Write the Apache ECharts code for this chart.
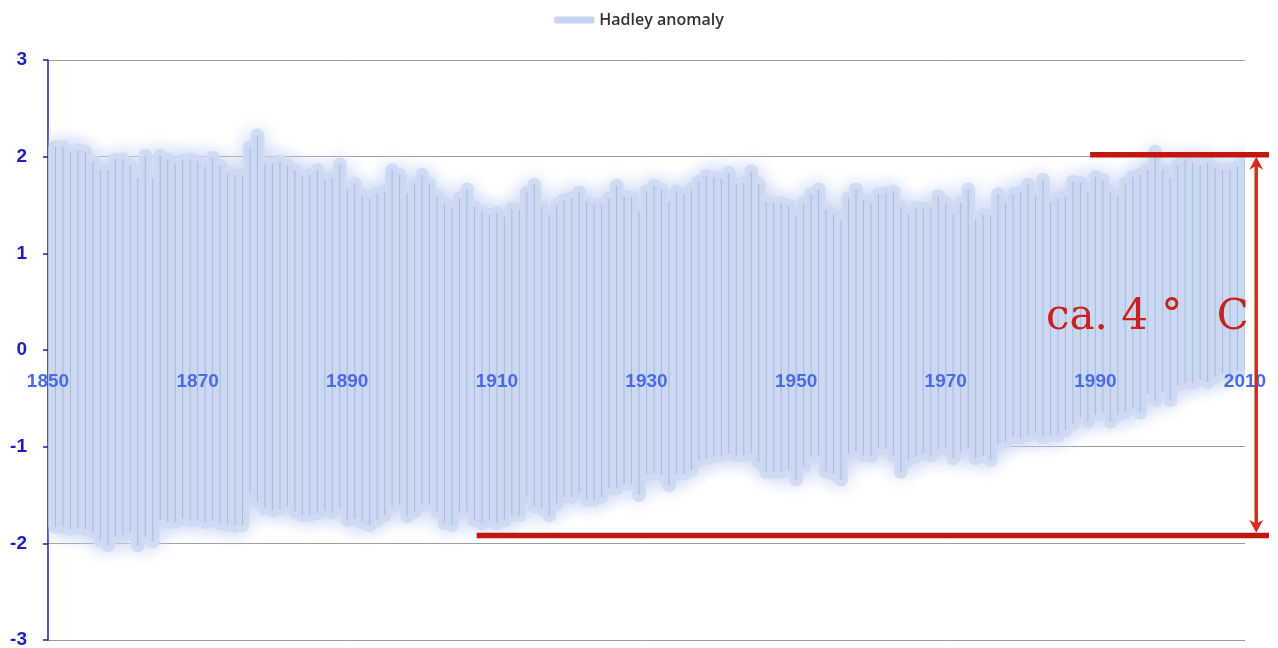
<!DOCTYPE html>
<html>
<head>
<meta charset="utf-8">
<script src="https://cdn.jsdelivr.net/npm/echarts@6/dist/echarts.min.js"></script>
<style>
html,body{margin:0;padding:0;background:#fff;}
#main{width:1278px;height:648px;}
</style>
</head>
<body>
<div id="main"></div>
<script>
const seriesName = 'Hadley anomaly';
const firstYear = 1851;
const xTicks = [1850, 1870, 1890, 1910, 1930, 1950, 1970, 1990, 2010];
const yTicks = [-3, -2, -1, 0, 1, 2, 3];

// upper end of each year's swing
const highs = [
2.10,2.10,2.05,2.07,2.05,1.95,1.86,1.86,1.97,1.97,
1.91,1.78,2.01,1.78,2.01,1.97,1.93,1.96,1.97,1.95,
1.90,1.99,1.91,1.83,1.81,1.81,2.10,2.22,1.93,1.93,
1.95,1.91,1.86,1.79,1.81,1.86,1.76,1.78,1.92,1.67,
1.72,1.60,1.57,1.62,1.64,1.86,1.81,1.62,1.72,1.81,
1.72,1.59,1.52,
1.47,1.57,1.66,1.48,1.43,1.40,1.42,1.38,1.46,1.45,
1.63,1.71,1.48,1.40,1.50,1.55,1.57,1.63,1.53,1.50,
1.50,1.57,1.70,1.59,1.58,1.43,1.64,1.70,1.66,1.53,
1.64,1.61,1.66,1.74,1.80,1.78,1.77,1.83,1.72,1.73,
1.85,1.72,1.53,1.52,1.52,1.49,1.38,1.52,1.61,1.66,
1.45,1.40,1.34,1.57,1.66,
1.55,1.52,1.61,1.62,1.64,1.48,1.41,1.47,1.46,1.47,
1.59,1.52,1.40,1.52,1.66,1.35,1.40,1.39,1.61,1.52,
1.61,1.63,1.71,1.59,1.76,1.53,1.57,1.59,1.74,1.73,
1.63,1.79,1.76,1.63,1.60,1.72,1.79,1.81,1.86,2.05,
1.86,1.78,1.91,1.97,1.93,1.91,1.94,1.88,1.86,1.86,
1.90,1.97
];

// lower end of each year's swing
const lows = [
-1.83,-1.83,-1.85,-1.84,-1.85,-1.88,-1.97,-2.02,-1.93,-1.91,
-1.88,-2.02,-1.93,-1.98,-1.76,-1.78,-1.78,-1.74,-1.76,-1.76,
-1.78,-1.76,-1.79,-1.81,-1.82,-1.81,-1.48,-1.57,-1.64,-1.66,
-1.64,-1.62,-1.67,-1.71,-1.71,-1.69,-1.66,-1.68,-1.64,-1.76,
-1.74,-1.78,-1.81,-1.76,-1.71,-1.62,-1.60,-1.72,-1.67,-1.60,
-1.59,-1.67,-1.79,
-1.81,-1.67,-1.67,-1.76,-1.79,-1.76,-1.79,-1.76,-1.71,-1.71,
-1.52,-1.62,-1.64,-1.71,-1.59,-1.52,-1.52,-1.48,-1.55,-1.55,
-1.52,-1.43,-1.43,-1.38,-1.38,-1.50,-1.29,-1.28,-1.29,-1.40,
-1.28,-1.28,-1.24,-1.14,-1.12,-1.10,-1.09,-1.07,-1.09,-1.09,
-1.07,-1.16,-1.26,-1.26,-1.26,-1.24,-1.34,-1.21,-1.10,-1.09,
-1.26,-1.28,-1.34,-1.07,-1.05,
-1.09,-1.10,-1.02,-1.02,-1.09,-1.26,-1.14,-1.10,-1.07,-1.09,
-1.03,-1.02,-1.12,-1.05,-1.02,-1.12,-1.10,-1.14,-0.97,-0.95,
-0.90,-0.91,-0.88,-0.86,-0.90,-0.88,-0.88,-0.83,-0.76,-0.69,
-0.74,-0.67,-0.65,-0.74,-0.67,-0.64,-0.60,-0.65,-0.45,-0.52,
-0.43,-0.52,-0.36,-0.34,-0.34,-0.31,-0.33,-0.28,-0.24,-0.24,
-0.21,-0.21
];

// annotation (data units)
const spanTopY = 2.02, spanTopFrom = 1989.3, spanTopTo = 2013.2;
const spanBotY = -1.92, spanBotFrom = 1907.3, spanBotTo = 2013.2;
const arrowX = 2011.5, arrowTop = 2.0, arrowBottom = -1.89;
const noteText = 'ca. 4 °\u2002 C';
const noteX = 1983.4, noteY = 0.33;

const years = highs.map((_, i) => firstYear + i);
const rows = years.map((y, i) => [y, lows[i], highs[i]]);

const chart = echarts.init(document.getElementById('main'));

function segItem(style) {
  return function (params, api) {
    const x = api.value(0);
    const p1 = api.coord([x, api.value(1)]);
    const p2 = api.coord([x, api.value(2)]);
    return {
      type: 'line',
      shape: { x1: p1[0], y1: p1[1], x2: p2[0], y2: p2[1] },
      style: style
    };
  };
}

function layer(style, z, name) {
  return {
    name: name,
    type: 'custom',
    clip: true,
    silent: true,
    data: rows,
    encode: { x: 0, y: [1, 2] },
    itemStyle: { color: '#c6d4ef' },
    renderItem: segItem(style),
    z: z
  };
}

chart.setOption({
  animation: false,
  backgroundColor: '#ffffff',
  legend: {
    top: 7,
    left: 'center',
    itemWidth: 40,
    itemHeight: 7,
    data: [{ name: seriesName, icon: 'roundRect', itemStyle: { color: '#c6d4ef' } }],
    textStyle: { fontFamily: 'Open Sans', fontSize: 16, fontWeight: 600, color: '#333' }
  },
  grid: { left: 48, right: 33, top: 60, bottom: 8, containLabel: false, outerBoundsMode: 'none' },
  xAxis: {
    type: 'value',
    min: 1850, max: 2010, interval: 20,
    z: 10,
    axisLine: { show: false, onZero: false },
    axisTick: { show: false },
    splitLine: { show: false },
    axisLabel: {
      showMinLabel: true, showMaxLabel: true,
      margin: 22,
      color: '#4b6be4',
      fontFamily: 'Liberation Sans',
      fontWeight: 'bold',
      fontSize: 19,
      formatter: v => (xTicks.indexOf(v) >= 0 ? String(v) : '')
    }
  },
  yAxis: {
    type: 'value',
    min: -3, max: 3, interval: 1,
    axisLine: { show: true, onZero: false, lineStyle: { color: '#1e1ea6', width: 1.5 } },
    axisTick: { show: true, length: 5, lineStyle: { color: '#1e1ea6', width: 1.5 } },
    splitLine: { show: true, lineStyle: { color: '#9c9c9c', width: 1 } },
    axisLabel: {
      margin: 21,
      color: '#1d1dbd',
      fontFamily: 'Liberation Sans',
      fontWeight: 'bold',
      fontSize: 19,
      formatter: v => (yTicks.indexOf(v) >= 0 ? String(v) : '')
    }
  },
  series: [
    layer({ stroke: '#d2ddf3', lineWidth: 14, lineCap: 'round', shadowBlur: 20, shadowColor: 'rgba(200,214,242,1)' }, 2, seriesName),
    layer({ stroke: '#cad8f2', lineWidth: 9, lineCap: 'butt' }, 3, seriesName),
    layer({ stroke: 'rgba(110,120,165,0.32)', lineWidth: 1 }, 4, seriesName)
  ]
});

// move the year labels up to the zero line
const zeroPx = chart.convertToPixel({ yAxisIndex: 0 }, 0);
const minPx = chart.convertToPixel({ yAxisIndex: 0 }, yTicks[0]);
chart.setOption({ xAxis: { offset: -(minPx - zeroPx) } });

function px(x, y) { return chart.convertToPixel({ gridIndex: 0 }, [x, y]); }

const t1 = px(spanTopFrom, spanTopY), t2 = px(spanTopTo, spanTopY);
const b1 = px(spanBotFrom, spanBotY), b2 = px(spanBotTo, spanBotY);
const aT = px(arrowX, arrowTop), aB = px(arrowX, arrowBottom);
const nP = px(noteX, noteY);
const red = '#c0180f', red2 = '#d62b1c';
const ah = 13, aw = 7;

chart.setOption({
  graphic: [
    { type: 'line', z: 100, shape: { x1: t1[0], y1: t1[1], x2: t2[0], y2: t2[1] }, style: { stroke: red, lineWidth: 5.5 } },
    { type: 'line', z: 100, shape: { x1: b1[0], y1: b1[1], x2: b2[0], y2: b2[1] }, style: { stroke: red, lineWidth: 5.5 } },
    { type: 'line', z: 100, shape: { x1: aT[0], y1: aT[1] + 6, x2: aB[0], y2: aB[1] - 6 }, style: { stroke: red2, lineWidth: 3.5 } },
    { type: 'polygon', z: 100, shape: { points: [[aT[0], aT[1]], [aT[0] - aw, aT[1] + ah], [aT[0], aT[1] + ah - 4], [aT[0] + aw, aT[1] + ah]] }, style: { fill: red2 } },
    { type: 'polygon', z: 100, shape: { points: [[aB[0], aB[1]], [aB[0] - aw, aB[1] - ah], [aB[0], aB[1] - ah + 4], [aB[0] + aw, aB[1] - ah]] }, style: { fill: red2 } },
    { type: 'text', z: 100, x: nP[0], y: nP[1], style: { text: noteText, fill: '#c9211d', font: '42px "DejaVu Serif"', verticalAlign: 'middle', align: 'left' } }
  ]
});
</script>
</body>
</html>
